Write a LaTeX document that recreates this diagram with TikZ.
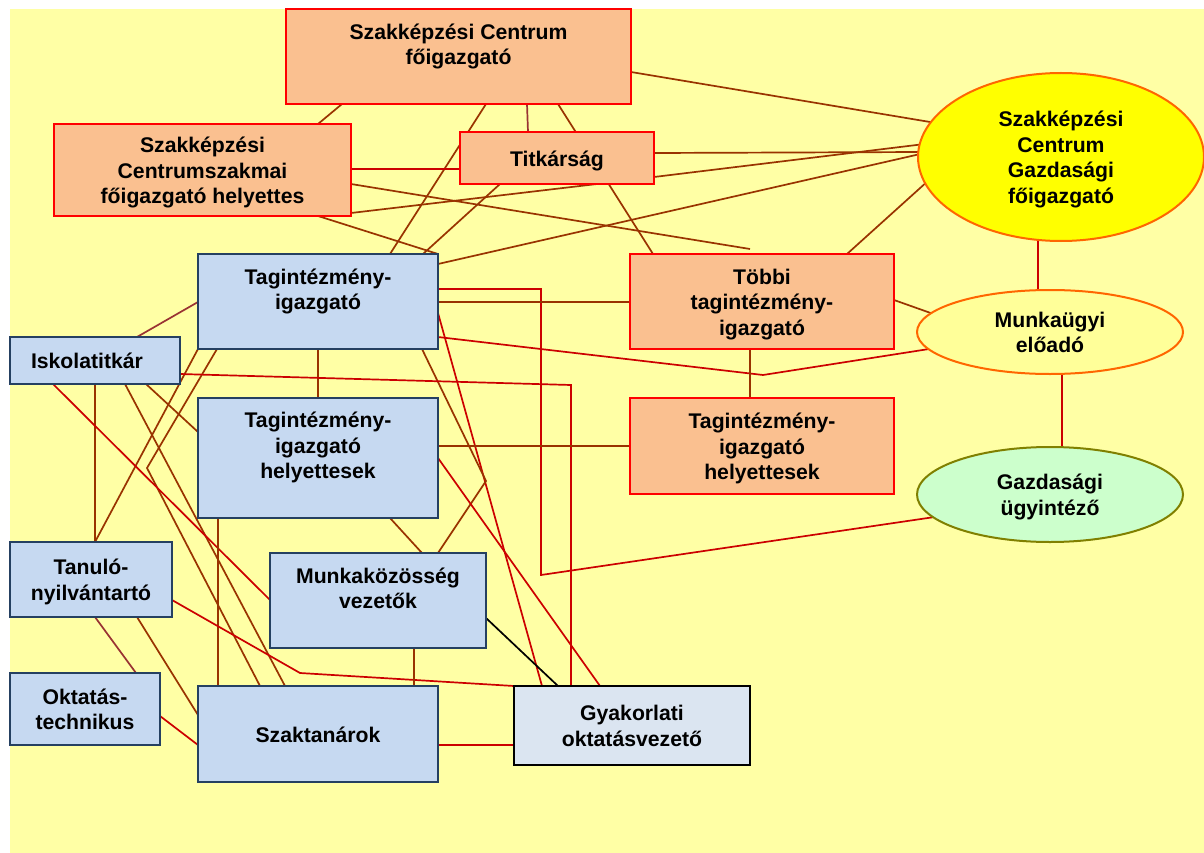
\documentclass[tikz,border=0pt]{standalone}
\usepackage{fontspec}
\setmainfont{Liberation Sans}
\usetikzlibrary{shapes.geometric,calc}
\pgfdeclarelayer{back}
\pgfsetlayers{back,main}
\newcommand\ks{\rule[-4.65pt]{0pt}{25.5pt}}
\definecolor{bg}{RGB}{255,255,165}
\definecolor{orfill}{RGB}{250,192,144}
\definecolor{boxred}{RGB}{255,0,0}
\definecolor{blfill}{RGB}{198,217,241}
\definecolor{boxblue}{RGB}{37,64,97}
\definecolor{gyfill}{RGB}{219,229,241}
\definecolor{gffill}{RGB}{255,255,0}
\definecolor{ellorange}{RGB}{255,102,0}
\definecolor{mufill}{RGB}{255,255,153}
\definecolor{gufill}{RGB}{204,255,204}
\definecolor{guborder}{RGB}{128,128,0}
\definecolor{lbrown}{RGB}{153,51,0}
\definecolor{lred}{RGB}{204,0,0}
\definecolor{lmauve}{RGB}{153,51,51}
\begin{document}
\begin{tikzpicture}[x=1pt,y=-1pt,
  txt/.style={align=center, font=\bfseries\fontsize{21.2}{25.5}\selectfont},
  box/.style={txt, draw, line width=2pt, inner sep=0pt, outer sep=0pt},
  obox/.style={box, draw=boxred, fill=orfill},
  bbox/.style={box, draw=boxblue, fill=blfill},
  ell/.style={txt, ellipse, line width=2pt, inner sep=0pt, outer sep=0pt},
  lb/.style={line width=1.7pt, draw=lbrown},
  lr/.style={line width=1.7pt, draw=lred},
  lm/.style={line width=1.7pt, draw=lmauve},
  lk/.style={line width=1.7pt, draw=black}]
\useasboundingbox (0,0) rectangle (1204,853);
\begin{pgfonlayer}{back}
\fill[bg] (10,9) rectangle (1204,853);
\end{pgfonlayer}

% nodes
\node[obox, minimum width=345pt, minimum height=95pt] (fo) at (458.5,56.5) {\ks Szakképzési Centrum\\főigazgató\\\ks};
\node[obox, minimum width=297pt, minimum height=92pt] (szh) at (202.5,170) {\ks Szakképzési\\Centrumszakmai\\főigazgató helyettes\ks};
\node[obox, minimum width=194pt, minimum height=52pt] (tit) at (557,158) {\ks Titkárság};
\node[ell, draw=ellorange, fill=gffill, minimum width=286pt, minimum height=168pt] (gf) at (1061,157) {\ks Szakképzési\\Centrum\\Gazdasági\\főigazgató\ks};
\node[bbox, minimum width=240pt, minimum height=95pt] (ti) at (318,301.5) {\ks Tagintézmény-\\igazgató\\\ks};
\node[obox, minimum width=264pt, minimum height=95pt] (tb) at (762,301.5) {\ks Többi\\tagintézmény-\\igazgató\ks};
\node[ell, draw=ellorange, fill=mufill, minimum width=266pt, minimum height=84pt] (mu) at (1050,332) {\ks Munkaügyi\\előadó\ks};
\node[bbox, minimum width=170pt, minimum height=47pt] (isk) at (95,360.5) {\ks Iskolatitkár\hspace{16pt}};
\node[bbox, minimum width=240pt, minimum height=120pt] (tih) at (318,458) {\ks Tagintézmény-\\igazgató\\helyettesek\\\ks};
\node[obox, minimum width=264pt, minimum height=96pt] (toh) at (762,446) {\ks Tagintézmény-\\igazgató\\helyettesek\ks};
\node[ell, draw=guborder, fill=gufill, minimum width=266pt, minimum height=95pt] (gu) at (1050,494.5) {\ks Gazdasági\\ügyintéző\ks};
\node[bbox, minimum width=162pt, minimum height=75pt] (tan) at (91,579.5) {\ks Tanuló-\\nyilvántartó\ks};
\node[bbox, minimum width=216pt, minimum height=95pt] (mk) at (378,600.5) {\ks Munkaközösség\\vezetők\\\ks};
\node[bbox, minimum width=150pt, minimum height=72pt] (okt) at (85,709) {\ks Oktatás-\\technikus\ks};
\node[bbox, minimum width=240pt, minimum height=96pt] (szt) at (318,734) {\ks Szaktanárok};
\node[box, draw=black, fill=gyfill, minimum width=236pt, minimum height=79pt] (gy) at (632,725.5) {\ks Gyakorlati\\oktatásvezető\ks};

% bend points and free ends
\coordinate (c7) at (750,249);
\coordinate (c17a) at (541,289);
\coordinate (c17b) at (541,575);
\coordinate (c19) at (763,375);
\coordinate (c21) at (486,481);
\coordinate (c25) at (147,468);
\coordinate (c28) at (571,385);
\coordinate (c37) at (300,673);

\begin{pgfonlayer}{back}
\draw[lb] ($(fo.south west)+(56,0)$) -- ($(szh.north west)+(264,0)$);
\draw[lb] ($(fo.north east)+(0,63)$) -- (gf.165);
\draw[lb] ($(fo.south west)+(200,0)$) -- ($(ti.north west)+(192,0)$);
\draw[lm] ($(fo.south west)+(241,0)$) -- ($(tit.north west)+(68,0)$);
\draw[lb] ($(fo.south west)+(272,0)$) -- ($(tb.north west)+(23,0)$);
\draw[lr] ($(szh.north east)+(0,45)$) -- ($(tit.north west)+(0,37)$);
\draw[lb] ($(szh.north east)+(0,60)$) -- (c7);
\draw[lb] ($(szh.north east)+(0,89)$) -- ($(tit.south west)+(137,0)$);
\draw[lb] ($(szh.south west)+(264,0)$) -- (ti.north east);
\draw[lb] ($(tit.north east)+(0,21)$) -- (gf.178);
\draw[lb] ($(tit.north east)+(0,45)$) -- (gf.175);
\draw[lb] ($(ti.north east)+(0,10)$) -- (gf.179);
\draw[lb] ($(ti.north west)+(225,0)$) -- ($(tit.south west)+(40,0)$);
\draw[lb] ($(tb.north west)+(217,0)$) -- (gf.191);
\draw[lr] ($(gf.south)+(-23,0)$) -- ($(mu.north)+(-12,0)$);
\draw[lm] ($(ti.north west)+(0,48)$) -- ($(isk.north west)+(127,0)$);
\draw[lr] ($(ti.north east)+(0,35)$) -- (c17a) -- (c17b) -- (gu.191);
\draw[lb] ($(ti.north east)+(0,48)$) -- ($(tb.north west)+(0,48)$);
\draw[lr] ($(ti.north east)+(0,83)$) -- (c19) -- (mu.188);
\draw[lr] ($(ti.north east)+(0,59)$) -- ($(gy.north west)+(28,0)$);
\draw[lb] ($(ti.south west)+(224,0)$) -- (c21) -- ($(mk.north west)+(168,0)$);
\draw[lb] (ti.south) -- (tih.north);
\draw[lb] (ti.south west) -- ($(tan.north west)+(85,0)$);
\draw[lb] (isk.south) -- ($(tan.north west)+(85,0)$);
\draw[lb] ($(ti.south west)+(19,0)$) -- (c25) -- ($(szt.north west)+(62,0)$);
\draw[lb] ($(isk.south west)+(115,0)$) -- ($(szt.north west)+(87,0)$);
\draw[lb] ($(isk.south west)+(136,0)$) -- ($(tih.north west)+(0,34)$);
\draw[lr] ($(isk.north east)+(0,37)$) -- (c28) -- ($(gy.north west)+(57,0)$);
\draw[lr] ($(isk.south west)+(43,0)$) -- ($(mk.north west)+(0,47)$);
\draw[lb] ($(tih.north east)+(0,48)$) -- (toh.west);
\draw[lr] (tih.east) -- ($(gy.north west)+(86,0)$);
\draw[lb] ($(tih.south west)+(192,0)$) -- ($(mk.north west)+(152,0)$);
\draw[lb] ($(tih.south west)+(20,0)$) -- ($(szt.north west)+(20,0)$);
\draw[lb] ($(tb.south west)+(120,0)$) -- ($(toh.north west)+(120,0)$);
\draw[lb] ($(tb.north east)+(0,46)$) -- (mu.171);
\draw[lr] ($(mu.south)+(12,0)$) -- ($(gu.north)+(12,0)$);
\draw[lr] ($(tan.north east)+(0,58)$) -- (c37) -- (gy.north west);
\draw[lm] ($(tan.south west)+(85,0)$) -- ($(okt.north west)+(126,0)$);
\draw[lb] ($(tan.south west)+(127,0)$) -- ($(szt.north west)+(0,29)$);
\draw[lr] ($(okt.north east)+(0,43)$) -- ($(szt.north west)+(0,59)$);
\draw[lk] ($(mk.north east)+(0,65)$) -- ($(gy.north west)+(44,0)$);
\draw[lb] ($(mk.south west)+(144,0)$) -- ($(szt.north west)+(216,0)$);
\draw[lr] ($(szt.north east)+(0,59)$) -- ($(gy.north west)+(0,59)$);
\end{pgfonlayer}
\end{tikzpicture}
\end{document}
